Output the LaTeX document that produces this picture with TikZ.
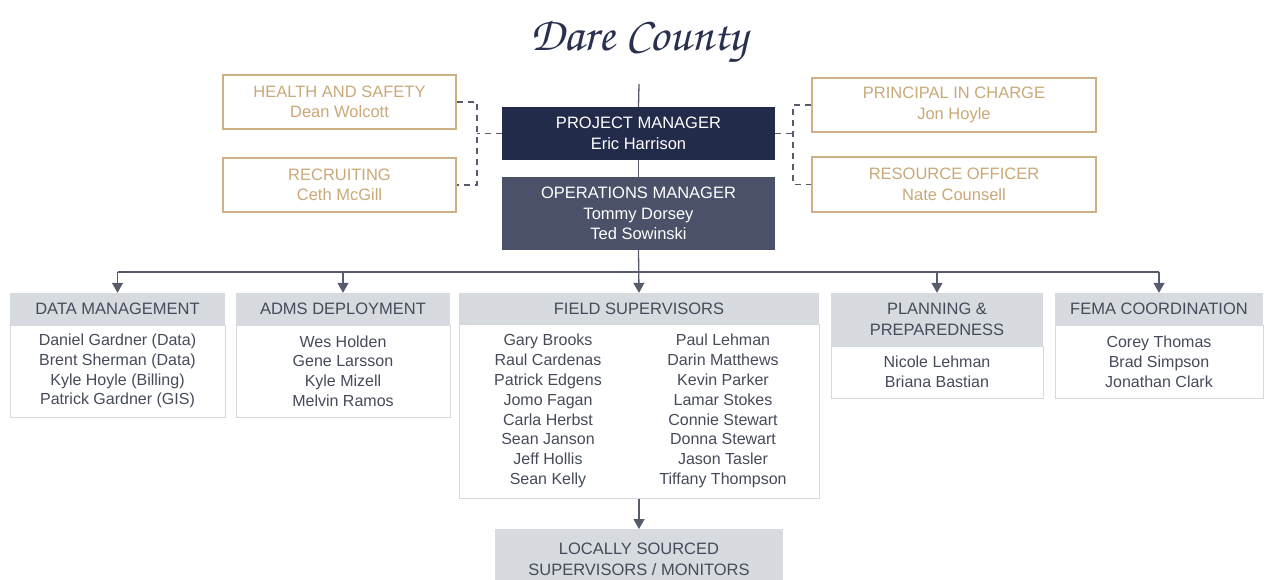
\documentclass[tikz,border=0pt]{standalone}
\usepackage[T1,TU]{fontenc}
\usepackage{fontspec}
\setmainfont{Liberation Sans}
\usetikzlibrary{arrows.meta}
\newcommand\chancery{\fontencoding{T1}\fontfamily{pzc}\fontseries{mb}\fontshape{it}\selectfont}
\newcommand\boxfont{\fontsize{16.5}{20.5}\selectfont}
\newcommand\listfont{\fontsize{16}{19.8}\selectfont}

\definecolor{navy}{HTML}{232B4B}
\definecolor{slate}{HTML}{4B5168}
\definecolor{gold}{HTML}{CDB084}
\definecolor{goldtext}{HTML}{C9A977}
\definecolor{hdr}{HTML}{D7DADF}
\definecolor{frame}{HTML}{D5D8DC}
\definecolor{ink}{HTML}{464B5A}
\definecolor{wire}{HTML}{565C6C}
\definecolor{titleink}{HTML}{2A3150}

\tikzset{
  goldbox/.style={draw=gold, line width=2pt, fill=white, text=goldtext,
    inner sep=0pt, align=center, font=\boxfont},
  leadbox/.style={fill=#1, text=white, inner sep=0pt, align=center, font=\boxfont},
  header/.style={fill=hdr, text=ink, inner sep=0pt, align=center, font=\boxfont},
  body/.style={draw=frame, line width=1pt, fill=white, text=ink, inner sep=0pt,
    align=center, font=\listfont},
  names/.style={text=ink, inner sep=0pt, align=center, font=\listfont},
  wireline/.style={draw=wire, line width=1.3pt},
  arrowwire/.style={wireline, -{Triangle[width=11pt,length=10pt]}},
  dashline/.style={draw=wire, line width=1.2pt, dash pattern=on 6pt off 5pt},
}

\begin{document}
\begin{tikzpicture}[x=1pt, y=-1pt]
\useasboundingbox (0,0) rectangle (1264,580);

% title
\node[text=titleink, font=\chancery\fontsize{48}{52}\selectfont, inner sep=0pt]
  (title) at (639,42) {Dare County};
\coordinate (tline) at (639,84);

% leadership
\node[leadbox=navy, minimum width=273, minimum height=53] (pm) at (638.5,133.5)
  {PROJECT MANAGER\\Eric Harrison};
\node[leadbox=slate, minimum width=273, minimum height=73] (om) at (638.5,213.5)
  {OPERATIONS MANAGER\\Tommy Dorsey\\Ted Sowinski};

% advisory boxes
\node[goldbox, minimum width=233, minimum height=54] (hs) at (339.5,102)
  {HEALTH AND SAFETY\\Dean Wolcott};
\node[goldbox, minimum width=233, minimum height=54] (rec) at (339.5,185)
  {RECRUITING\\Ceth McGill};
\node[goldbox, minimum width=284, minimum height=54] (pic) at (954,105)
  {PRINCIPAL IN CHARGE\\Jon Hoyle};
\node[goldbox, minimum width=284, minimum height=55] (ro) at (954,184.5)
  {RESOURCE OFFICER\\Nate Counsell};

% departments: bodies first, headers on top
\node[body, minimum width=215, minimum height=92] (dmb) at (117.5,371)
  {Daniel Gardner (Data)\\Brent Sherman (Data)\\Kyle Hoyle (Billing)\\Patrick Gardner (GIS)};
\node[header, minimum width=215, minimum height=32] (dmh) at (117.5,309) {DATA MANAGEMENT};

\node[body, minimum width=214, minimum height=92] (admsb) at (343,371)
  {Wes Holden\\Gene Larsson\\Kyle Mizell\\Melvin Ramos};
\node[header, minimum width=214, minimum height=32] (admsh) at (343,309) {ADMS DEPLOYMENT};

\node[body, minimum width=360, minimum height=174] (fieldb) at (639,411) {};
\node[header, minimum width=360, minimum height=31] (fieldh) at (639,308.5) {FIELD SUPERVISORS};
\node[names] (fieldl) at (548,411)
  {Gary Brooks\\Raul Cardenas\\Patrick Edgens\\Jomo Fagan\\Carla Herbst\\Sean Janson\\Jeff Hollis\\Sean Kelly};
\node[names] (fieldr) at (723,411)
  {Paul Lehman\\Darin Matthews\\Kevin Parker\\Lamar Stokes\\Connie Stewart\\Donna Stewart\\Jason Tasler\\Tiffany Thompson};

\node[body, minimum width=212, minimum height=52] (planb) at (937,372)
  {Nicole Lehman\\Briana Bastian};
\node[header, minimum width=212, minimum height=53] (planh) at (937,319.5)
  {PLANNING \&\\PREPAREDNESS};

\node[body, minimum width=208, minimum height=73] (femab) at (1159,361.5)
  {Corey Thomas\\Brad Simpson\\Jonathan Clark};
\node[header, minimum width=208, minimum height=32] (femah) at (1159,309) {FEMA COORDINATION};

\node[header, minimum width=288, minimum height=60, anchor=north] (local) at (639,529)
  {LOCALLY SOURCED\\SUPERVISORS / MONITORS};

% reporting lines
\draw[wireline] (tline) -- (pm.north);
\draw[wireline] (pm.south) -- (om.north);
\draw[arrowwire] (om.south) -- (fieldh.north);
\coordinate (bus) at (0,272);
\draw[wireline] (dmh.north |- bus) -- (femah.north |- bus);
\foreach \n in {dmh,admsh,planh,femah}
  \draw[arrowwire] (\n.north |- bus) -- (\n.north);
\draw[arrowwire] (fieldb.south) -- (local.north);

% dashed advisory links
\coordinate (dl) at (477,0);
\coordinate (dr) at (793,0);
\draw[dashline] (hs.east) -| (dl |- rec.east) -- (rec.east);
\draw[dashline] (pm.west) -- (dl |- pm.west);
\draw[dashline] (pic.west) -| (dr |- ro.west) -- (ro.west);
\draw[dashline] (pm.east) -- (dr |- pm.east);
\end{tikzpicture}
\end{document}
